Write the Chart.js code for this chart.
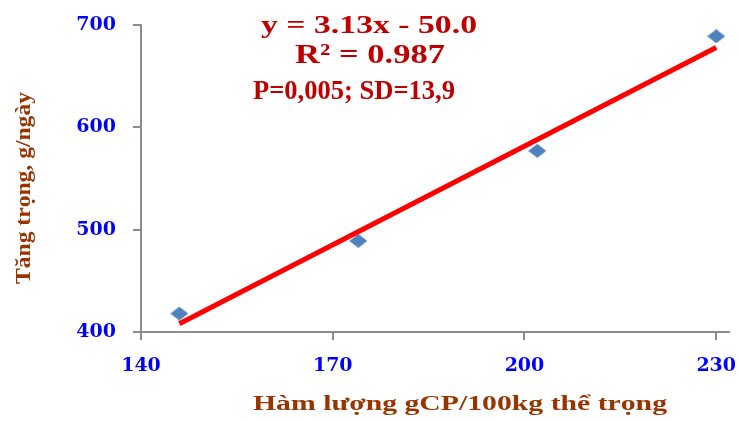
<!DOCTYPE html>
<html>
<head>
<meta charset="utf-8">
<script src="https://cdn.jsdelivr.net/npm/chart.js@4"></script>
<style>
  html, body { margin: 0; padding: 0; background: #fff; }
  #wrap { width: 738px; height: 422px; }
</style>
</head>
<body>
<div id="wrap"><canvas id="tangtrong"></canvas></div>
<script>
  // --- Data ---
  const hamLuong = [146, 174, 202, 230];
  const tangTrong = [418, 489, 577, 689];
  const trendX = [146, 230];
  const trendY = [408, 678];
  const xTicks = [140, 170, 200, 230];
  const yTicks = [400, 500, 600, 700];

  const axisColor = '#8c8c8c';
  const tickFont = { family: 'DejaVu Serif', size: 19, weight: 'bold' };

  // flattened diamond marker
  const marker = document.createElement('canvas');
  marker.width = 18;
  marker.height = 14;
  const mctx = marker.getContext('2d');
  mctx.fillStyle = '#4F81BD';
  mctx.beginPath();
  mctx.moveTo(9, 0);
  mctx.lineTo(18, 7);
  mctx.lineTo(9, 14);
  mctx.lineTo(0, 7);
  mctx.closePath();
  mctx.fill();

  // draws text squeezed/stretched to a given width
  function drawText(ctx, text, x, y, font, width, color) {
    ctx.save();
    ctx.font = font;
    const w0 = ctx.measureText(text).width;
    ctx.translate(x, y);
    ctx.scale(width / w0, 1);
    ctx.fillStyle = color;
    ctx.textAlign = 'center';
    ctx.textBaseline = 'alphabetic';
    ctx.fillText(text, 0, 0);
    ctx.restore();
  }

  const labelsPlugin = {
    id: 'labels',
    afterDraw(chart) {
      const ctx = chart.ctx;
      const red = '#C00000';
      const brown = '#993300';
      drawText(ctx, 'y = 3.13x - 50.0', 369, 33, 'bold 26px "Liberation Serif"', 216, red);
      drawText(ctx, 'R² = 0.987', 370, 63, 'bold 28px "Liberation Serif"', 150, red);
      drawText(ctx, 'P=0,005; SD=13,9', 354, 99, 'bold 27px "Liberation Serif"', 202, red);
      drawText(ctx, 'Hàm lượng gCP/100kg thể trọng', 460, 410, 'bold 20px "Liberation Serif"', 414, brown);
      // y title
      ctx.save();
      ctx.translate(30, 188);
      ctx.rotate(-Math.PI / 2);
      drawText(ctx, 'Tăng trọng, g/ngày', 0, 0, 'bold 22px "Liberation Serif"', 192, brown);
      ctx.restore();
    }
  };

  const data = {
    datasets: [
      {
        type: 'line',
        label: 'Trend',
        data: trendX.map((x, i) => ({ x: x, y: trendY[i] })),
        borderColor: '#FF0000',
        borderWidth: 5,
        pointRadius: 0,
        fill: false,
        order: 1
      },
      {
        type: 'scatter',
        label: 'Tăng trọng',
        data: hamLuong.map((x, i) => ({ x: x, y: tangTrong[i] })),
        pointStyle: marker,
        pointRadius: 8,
        order: 2
      }
    ]
  };

  const config = {
    data: data,
    plugins: [labelsPlugin],
    options: {
      responsive: true,
      maintainAspectRatio: false,
      animation: false,
      layout: { padding: { top: 25, right: 0, bottom: 0, left: 0 } },
      plugins: {
        legend: { display: false },
        tooltip: { enabled: false }
      },
      scales: {
        x: {
          type: 'linear',
          min: 140,
          max: 232,
          afterBuildTicks: (scale) => { scale.ticks = xTicks.map(v => ({ value: v })); },
          afterFit: (scale) => {
            scale.height = 90;
            scale.paddingRight = 0;
            scale.paddingLeft = 0;
          },
          grid: { drawOnChartArea: false, drawTicks: true, tickLength: 8, color: axisColor, lineWidth: 2 },
          border: { color: axisColor, width: 2 },
          ticks: { color: '#0000FF', font: tickFont, padding: 15, maxRotation: 0 }
        },
        y: {
          type: 'linear',
          min: 400,
          max: 700,
          afterBuildTicks: (scale) => { scale.ticks = yTicks.map(v => ({ value: v })); },
          afterFit: (scale) => {
            scale.width = 141;
            scale.paddingTop = 0;
            scale.paddingBottom = 0;
          },
          grid: { drawOnChartArea: false, drawTicks: true, tickLength: 8, color: axisColor, lineWidth: 2 },
          border: { color: axisColor, width: 2 },
          ticks: { color: '#0000FF', font: tickFont, padding: 17 }
        }
      }
    }
  };

  const tangTrongChart = new Chart(
    document.getElementById('tangtrong'),
    config
  );
</script>
</body>
</html>
